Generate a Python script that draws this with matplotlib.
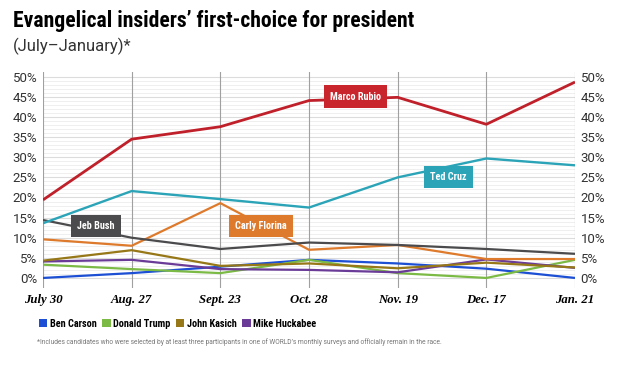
import matplotlib
matplotlib.use("Agg")
import matplotlib.pyplot as plt
from matplotlib.patches import Patch
from matplotlib import font_manager
import numpy as np

dates = ["July 30", "Aug. 27", "Sept. 23", "Oct. 28", "Nov. 19", "Dec. 17", "Jan. 21"]

rubio    = [19.4, 34.5, 37.6, 44.1, 44.9, 38.2, 48.7]
cruz     = [13.6, 21.6, 19.6, 17.5, 25.0, 29.7, 28.0]
bush     = [14.4, 10.0, 7.2, 8.8, 8.2, 7.2, 6.0]
fiorina  = [9.6, 8.0, 18.6, 7.0, 8.2, 4.7, 4.7]
kasich   = [4.3, 6.9, 3.0, 3.6, 2.4, 3.8, 2.6]
huckabee = [4.1, 4.5, 2.2, 2.0, 1.4, 4.6, 2.5]
trump    = [3.3, 2.2, 1.2, 4.5, 1.2, 0.0, 4.5]
carson   = [0.0, 1.2, 2.8, 4.5, 3.6, 2.3, 0.0]

yticks = [0, 5, 10, 15, 20, 25, 30, 35, 40, 45, 50]

names = {f.name for f in font_manager.fontManager.ttflist}
def pick(*cands):
    for c in cands:
        if c in names:
            return c
    return "DejaVu Sans"

heavy = pick("Liberation Sans Narrow", "Roboto Condensed", "DejaVu Sans")
light = pick("Roboto", "Open Sans", "DejaVu Sans")
serif = pick("Liberation Serif", "DejaVu Serif")

fig = plt.figure(figsize=(6.2, 3.65), dpi=100)
fig.patch.set_facecolor("white")
ax = fig.add_axes([43/620, 1-288/365, (575-43)/620, (288-72)/365])

x = np.arange(len(dates))

# grid
for v in np.arange(0, 51, 1):
    ax.axhline(v, color="#ececec", lw=0.6, zorder=0)
for v in yticks:
    ax.axhline(v, color="#dcdcdc", lw=0.8, zorder=0)
for xi in x:
    ax.axvline(xi, color="#a0a0a0", lw=0.8, zorder=1)

series = [
    (carson, "#1c4fd4", 1.6),
    (trump, "#7cba46", 1.6),
    (huckabee, "#6a3c98", 1.6),
    (kasich, "#977818", 1.6),
    (fiorina, "#de7a2c", 1.6),
    (bush, "#4b4b4d", 1.6),
    (cruz, "#2ba4b8", 1.7),
    (rubio, "#c0202a", 2.0),
]
for vals, col, lw in series:
    ax.plot(x, vals, color=col, lw=lw, zorder=3, solid_capstyle="butt")

ax.set_xlim(0, len(dates)-1)
ax.set_ylim(-2.5, 51.2)
for s in ax.spines.values():
    s.set_visible(False)
ax.set_yticks(yticks)
ax.set_yticklabels([f"{v}%" for v in yticks])
ax.tick_params(axis="y", length=0, labelsize=9.5, labelcolor="#333333",
               pad=4, labelright=True, labelleft=True)
for lab in ax.get_yticklabels():
    lab.set_family(light)
ax.set_xticks(x)
ax.set_xticklabels(dates, family=serif, fontweight="bold",
                   fontstyle="italic", fontsize=9.2)
ax.tick_params(axis="x", length=0, pad=4)

def tag(xd, yd, text, col):
    ax.text(xd, yd, text, color="white", fontsize=7.3, fontweight="bold",
            ha="center", va="center", zorder=5, family=heavy,
            bbox=dict(boxstyle="square,pad=0.6", fc=col, ec="none"))

tag(3.52, 45.1, "Marco Rubio", "#c8262c")
tag(4.57, 25.1, "Ted Cruz", "#2ba4b8")
tag(0.6, 12.9, "Jeb Bush", "#4b4b4d")
tag(2.46, 12.9, "Carly Florina", "#de7a2c")

fig.text(13/620, 1-21/365, "Evangelical insiders\u2019 first-choice for president",
         fontsize=15.6, fontweight="bold", family=heavy, va="center", ha="left")
fig.text(13/620, 1-46/365, "(July\u2013January)*", fontsize=12, family=light,
         va="center", ha="left", color="#333333")

handles = [Patch(fc=c, ec="none") for c in ["#1c4fd4", "#7cba46", "#977818", "#6a3c98"]]
leg = fig.legend(handles, ["Ben Carson", "Donald Trump", "John Kasich", "Mike Huckabee"],
                 loc="center left", bbox_to_anchor=(30/620, 1-324/365), ncol=4,
                 frameon=False, handlelength=0.8, handleheight=0.8,
                 handletextpad=0.25, columnspacing=0.55,
                 prop=dict(family=heavy, size=7.4, weight="bold"))

fig.text(37/620, 1-342/365,
         "*Includes candidates who were selected by at least three participants in one of "
         "WORLD\u2019s monthly surveys and officially remain in the race.",
         fontsize=4.75, color="#777777", va="center", ha="left", family=light)

fig.savefig("out.png", dpi=100)
